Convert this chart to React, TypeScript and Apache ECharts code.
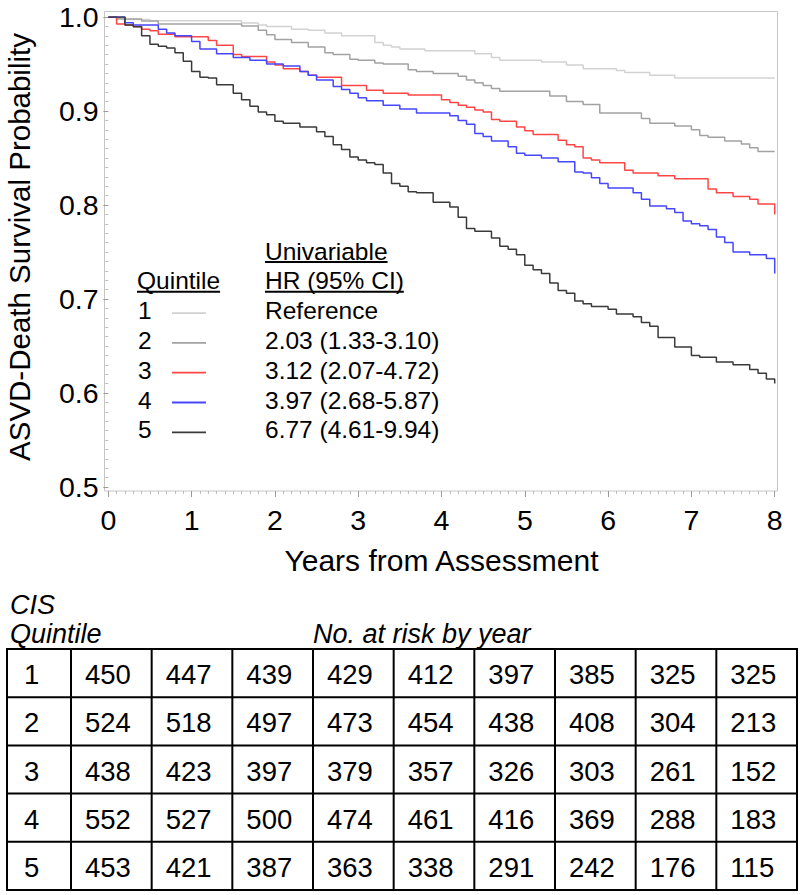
import React, { useEffect, useRef } from "react";
import * as echarts from "echarts";

// ---------- DATA ----------
const xTicks = [0, 1, 2, 3, 4, 5, 6, 7, 8];
const quintiles = ["1", "2", "3", "4", "5"];
const hrLabels = [
  "Reference",
  "2.03 (1.33-3.10)",
  "3.12 (2.07-4.72)",
  "3.97 (2.68-5.87)",
  "6.77 (4.61-9.94)",
];
const curveColors = ["#d2d2d2", "#a2a2a2", "#ff4646", "#4646ff", "#3a3a3a"];

// Kaplan-Meier steps: [years, survival]
const q1Steps = [
  [0, 1.0], [0.1, 0.9986], [0.2, 0.9973], [0.5, 0.996], [1.6, 0.9936], [1.8, 0.9915], [1.9, 0.99],
  [2.2, 0.987], [2.4, 0.986], [2.6, 0.983], [2.8, 0.98], [3.2, 0.973], [3.3, 0.97], [3.4, 0.968],
  [3.5, 0.966], [3.8, 0.964], [4.4, 0.961], [4.6, 0.957], [4.7, 0.954], [5.2, 0.952], [5.5, 0.949],
  [5.7, 0.945], [6.1, 0.943], [6.2, 0.941], [6.5, 0.938], [6.8, 0.935], [8.0, 0.935],
];
const q2Steps = [
  [0, 1.0], [0.1, 0.998], [0.4, 0.9957], [0.6, 0.9926], [1.6, 0.9904], [1.8, 0.986], [1.9, 0.981],
  [2.0, 0.976], [2.2, 0.973], [2.4, 0.968], [2.6, 0.962], [2.7, 0.96], [2.9, 0.955], [3.0, 0.954],
  [3.2, 0.951], [3.3, 0.95], [3.6, 0.944], [3.7, 0.942], [3.9, 0.94], [4.2, 0.937], [4.3, 0.933],
  [4.4, 0.93], [4.5, 0.927], [4.6, 0.924], [4.7, 0.921], [5.3, 0.916], [5.5, 0.91], [5.7, 0.907],
  [5.9, 0.898], [6.4, 0.892], [6.5, 0.887], [6.8, 0.884], [7.0, 0.88], [7.1, 0.874], [7.2, 0.872],
  [7.4, 0.868], [7.6, 0.865], [7.7, 0.861], [7.8, 0.857], [8.0, 0.857],
];
const q3Steps = [
  [0, 1.0], [0.1, 0.9926], [0.2, 0.9915], [0.3, 0.99], [0.4, 0.987], [0.5, 0.9854], [0.6, 0.9816],
  [0.8, 0.979], [1.2, 0.975], [1.3, 0.97], [1.5, 0.96], [1.6, 0.958], [1.9, 0.952], [2.0, 0.949],
  [2.1, 0.945], [2.3, 0.942], [2.4, 0.938], [2.5, 0.936], [2.8, 0.927], [3.1, 0.922], [3.3, 0.919],
  [3.6, 0.917], [4.0, 0.912], [4.1, 0.909], [4.2, 0.906], [4.3, 0.904], [4.4, 0.901], [4.5, 0.899],
  [4.6, 0.891], [4.7, 0.889], [4.9, 0.883], [5.0, 0.879], [5.1, 0.875], [5.4, 0.869], [5.5, 0.864],
  [5.6, 0.862], [5.7, 0.85], [5.8, 0.848], [5.9, 0.845], [6.2, 0.837], [6.3, 0.834], [6.6, 0.831],
  [6.8, 0.828], [7.2, 0.817], [7.3, 0.813], [7.5, 0.809], [7.7, 0.806], [7.8, 0.801], [8.0, 0.79],
];
const q4Steps = [
  [0, 1.0], [0.2, 0.994], [0.3, 0.9915], [0.6, 0.987], [0.7, 0.983], [0.8, 0.98], [1.0, 0.974],
  [1.1, 0.966], [1.3, 0.961], [1.5, 0.957], [1.7, 0.954], [1.9, 0.95], [2.1, 0.948], [2.3, 0.942],
  [2.4, 0.938], [2.5, 0.933], [2.7, 0.926], [2.8, 0.923], [2.9, 0.919], [3.0, 0.914], [3.1, 0.911],
  [3.3, 0.906], [3.5, 0.902], [3.7, 0.898], [4.1, 0.895], [4.2, 0.89], [4.3, 0.886], [4.4, 0.876],
  [4.5, 0.873], [4.6, 0.868], [4.8, 0.862], [4.9, 0.855], [5.0, 0.853], [5.2, 0.85], [5.4, 0.846],
  [5.6, 0.835], [5.7, 0.834], [5.8, 0.829], [5.9, 0.823], [6.0, 0.818], [6.3, 0.813], [6.4, 0.806],
  [6.5, 0.799], [6.7, 0.796], [6.8, 0.792], [6.9, 0.783], [7.0, 0.78], [7.1, 0.778], [7.2, 0.774],
  [7.3, 0.766], [7.4, 0.76], [7.5, 0.75], [7.7, 0.747], [7.9, 0.743], [8.0, 0.727],
];
const q5Steps = [
  [0, 1.0], [0.2, 0.9915], [0.3, 0.9897], [0.4, 0.98], [0.5, 0.971], [0.6, 0.969], [0.7, 0.967],
  [0.8, 0.962], [0.9, 0.953], [1.0, 0.942], [1.1, 0.936], [1.2, 0.935], [1.3, 0.928], [1.5, 0.919],
  [1.6, 0.912], [1.7, 0.905], [1.8, 0.899], [1.9, 0.896], [2.0, 0.889], [2.1, 0.887], [2.3, 0.883],
  [2.5, 0.878], [2.6, 0.873], [2.7, 0.864], [2.8, 0.859], [2.9, 0.851], [3.0, 0.848], [3.1, 0.845],
  [3.2, 0.843], [3.3, 0.834], [3.4, 0.823], [3.5, 0.82], [3.6, 0.814], [3.7, 0.813], [3.9, 0.803],
  [4.1, 0.798], [4.2, 0.787], [4.3, 0.775], [4.4, 0.772], [4.6, 0.765], [4.7, 0.756], [4.8, 0.753],
  [4.9, 0.747], [5.0, 0.736], [5.1, 0.731], [5.2, 0.727], [5.3, 0.717], [5.4, 0.709], [5.5, 0.706],
  [5.6, 0.698], [5.7, 0.695], [5.8, 0.692], [6.0, 0.689], [6.1, 0.684], [6.3, 0.681], [6.4, 0.675],
  [6.5, 0.671], [6.6, 0.659], [6.8, 0.649], [7.0, 0.64], [7.1, 0.638], [7.3, 0.633], [7.5, 0.63],
  [7.7, 0.625], [7.8, 0.621], [7.9, 0.615], [8.0, 0.61],
];
const curves = [q1Steps, q2Steps, q3Steps, q4Steps, q5Steps];

// Number at risk by year
const riskQ1 = [450, 447, 439, 429, 412, 397, 385, 325, 325];
const riskQ2 = [524, 518, 497, 473, 454, 438, 408, 304, 213];
const riskQ3 = [438, 423, 397, 379, 357, 326, 303, 261, 152];
const riskQ4 = [552, 527, 500, 474, 461, 416, 369, 288, 183];
const riskQ5 = [453, 421, 387, 363, 338, 291, 242, 176, 115];
const riskRows = [riskQ1, riskQ2, riskQ3, riskQ4, riskQ5];

// ---------- STYLE ----------
const FONT = '"Liberation Sans", Arial, Helvetica, sans-serif';

function textWidth(text: string, size: number, italic = false) {
  const ctx = document.createElement("canvas").getContext("2d");
  if (!ctx) return text.length * size * 0.55;
  ctx.font = `${italic ? "italic " : ""}${size}px "Liberation Sans", Arial, sans-serif`;
  return ctx.measureText(text).width;
}

function buildGraphic() {
  const g: any[] = [];
  // plot frame
  g.push({
    type: "rect",
    silent: true,
    z: 0,
    shape: { x: 104.5, y: 11.5, width: 673, height: 479.5 },
    style: { fill: "none", stroke: "#c6c6c6", lineWidth: 1 },
  });
  // axis titles
  g.push({
    type: "text",
    x: 19,
    y: 247,
    rotation: Math.PI / 2,
    style: {
      text: "ASVD-Death Survival Probability",
      fontSize: 29.5,
      fontFamily: FONT,
      fill: "#000",
      textAlign: "center",
      textVerticalAlign: "middle",
    },
  });
  g.push({
    type: "text",
    x: 441.5,
    y: 560,
    style: {
      text: "Years from Assessment",
      fontSize: 30,
      fontFamily: FONT,
      fill: "#000",
      textAlign: "center",
      textVerticalAlign: "middle",
    },
  });

  // legend
  const LF = 24.5;
  const rowStep = 29.8;
  const yUni = 251;
  const yHead = yUni + rowStep;
  const xQ = 137;
  const xLineA = 172;
  const xLineB = 206;
  const xHR = 265;
  const addText = (text: string, x: number, y: number, underline = false) => {
    g.push({
      type: "text",
      x,
      y,
      style: {
        text,
        fontSize: LF,
        fontFamily: FONT,
        fill: "#000",
        textAlign: "left",
        textVerticalAlign: "middle",
      },
    });
    if (underline) {
      const w = textWidth(text, LF);
      g.push({
        type: "line",
        silent: true,
        shape: { x1: x, y1: y + 11, x2: x + w, y2: y + 11 },
        style: { stroke: "#000", lineWidth: 2 },
      });
    }
  };
  addText("Univariable", xHR, yUni, true);
  addText("Quintile", xQ, yHead, true);
  addText("HR (95% CI)", xHR, yHead, true);
  quintiles.forEach((q, i) => {
    const y = yHead + rowStep * (i + 1);
    addText(q, xQ + 1, y);
    g.push({
      type: "line",
      silent: true,
      shape: { x1: xLineA, y1: y + 2.5, x2: xLineB, y2: y + 2.5 },
      style: { stroke: curveColors[i], lineWidth: 1.8 },
    });
    addText(hrLabels[i], xHR, y);
  });

  // risk table
  const TF = 27.5;
  const tLeft = 7;
  const tRight = 797;
  const tTop = 649;
  const tBottom = 890;
  const firstW = 64;
  const nCols = xTicks.length;
  const colW = (tRight - tLeft - firstW) / nCols;
  const rowH = (tBottom - tTop) / riskRows.length;

  const italicText = (text: string, x: number, y: number) => ({
    type: "text",
    x,
    y,
    style: { text, fontSize: 27, fontStyle: "italic", fontFamily: FONT, fill: "#000", textAlign: "left", textVerticalAlign: "middle" },
  });
  g.push(italicText("CIS", 10, 605));
  g.push(italicText("Quintile", 10, 634));
  g.push(italicText("No. at risk by year", 313, 634));

  // grid lines of the table
  g.push({
    type: "rect",
    silent: true,
    shape: { x: tLeft, y: tTop, width: tRight - tLeft, height: tBottom - tTop },
    style: { fill: "none", stroke: "#000", lineWidth: 2 },
  });
  for (let r = 1; r < riskRows.length; r++) {
    const y = tTop + rowH * r;
    g.push({ type: "line", silent: true, shape: { x1: tLeft, y1: y, x2: tRight, y2: y }, style: { stroke: "#000", lineWidth: 2 } });
  }
  for (let c = 0; c < nCols; c++) {
    const x = tLeft + firstW + colW * c;
    g.push({ type: "line", silent: true, shape: { x1: x, y1: tTop, x2: x, y2: tBottom }, style: { stroke: "#000", lineWidth: 2 } });
  }
  riskRows.forEach((row, r) => {
    const yc = tTop + rowH * r + rowH / 2 + 1.5;
    g.push({
      type: "text",
      x: tLeft + 17,
      y: yc,
      style: { text: quintiles[r], fontSize: TF, fontFamily: FONT, fill: "#000", textAlign: "left", textVerticalAlign: "middle" },
    });
    row.forEach((v, c) => {
      g.push({
        type: "text",
        x: tLeft + firstW + colW * c + 14,
        y: yc,
        style: { text: String(v), fontSize: TF, fontFamily: FONT, fill: "#000", textAlign: "left", textVerticalAlign: "middle" },
      });
    });
  });
  return g;
}

export default function App() {
  const ref = useRef<HTMLDivElement>(null);
  useEffect(() => {
    if (!ref.current) return;
    const chart = echarts.init(ref.current, undefined, { renderer: "svg" });
    const option: any = {
      animation: false,
      backgroundColor: "#fff",
      grid: { left: 108.3, right: 25.3, top: 17, bottom: 408, containLabel: false },
      xAxis: {
        type: "value",
        min: 0,
        max: 8,
        interval: 1,
        offset: 4,
        axisLine: { show: false },
        axisTick: { show: true, length: 6, lineStyle: { color: "#9a9a9a", width: 1 } },
        minorTick: { show: true, splitNumber: 10, length: 3, lineStyle: { color: "#bdbdbd", width: 1 } },
        splitLine: { show: false },
        minorSplitLine: { show: false },
        axisLabel: {
          fontSize: 28.5,
          fontFamily: FONT,
          color: "#000",
          margin: 14,
          formatter: (v: number) => (xTicks.includes(v) ? String(v) : ""),
        },
      },
      yAxis: {
        type: "value",
        min: 0.5,
        max: 1.0,
        interval: 0.1,
        offset: 3.8,
        axisLine: { show: false },
        axisTick: { show: true, length: 5, lineStyle: { color: "#9a9a9a", width: 1 } },
        minorTick: { show: true, splitNumber: 10, length: 3, lineStyle: { color: "#bdbdbd", width: 1 } },
        splitLine: { show: false },
        minorSplitLine: { show: false },
        axisLabel: {
          fontSize: 28.5,
          fontFamily: FONT,
          color: "#000",
          margin: 6,
          formatter: (v: number) => v.toFixed(1),
        },
      },
      series: curves.map((d, i) => ({
        type: "line",
        name: "Quintile " + quintiles[i],
        data: d,
        step: "end",
        showSymbol: false,
        symbol: "none",
        silent: true,
        z: 2 + i,
        lineStyle: { color: curveColors[i], width: 1.5 },
      })),
      graphic: buildGraphic(),
    };
    chart.setOption(option);
    return () => chart.dispose();
  }, []);
  return (
    <div
      ref={ref}
      style={{ position: "absolute", left: 0, top: 0, width: 800, height: 895, background: "#fff" }}
    />
  );
}
